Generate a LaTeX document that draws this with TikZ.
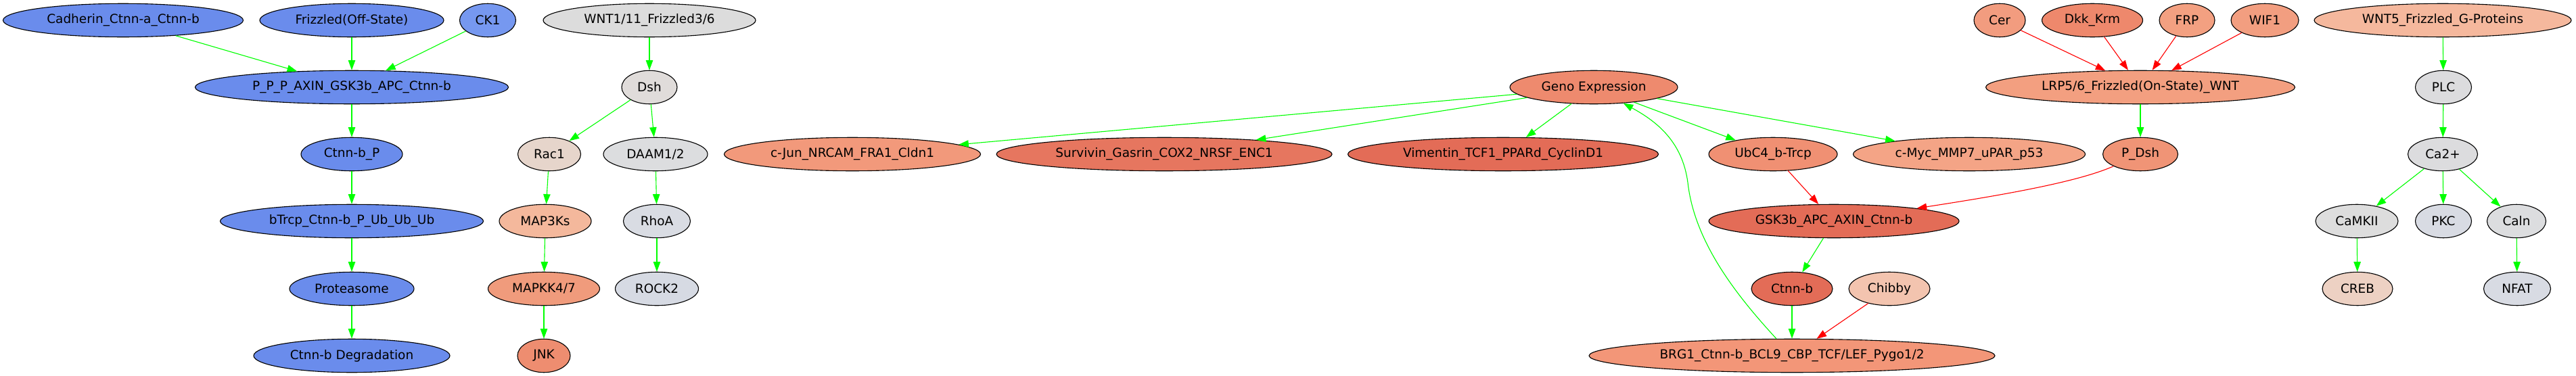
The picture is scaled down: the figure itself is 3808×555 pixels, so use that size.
\documentclass[tikz,border=0pt]{standalone}
\usepackage{fontspec}
\setmainfont{DejaVu Sans}
\usepackage{tikz}
\usetikzlibrary{arrows.meta,shapes.geometric}
\definecolor{cblue}{HTML}{6A8CEC}
\definecolor{cblueb}{HTML}{7698F0}
\definecolor{gwnt}{HTML}{DCDCDC}
\definecolor{gdsh}{HTML}{E0DCDA}
\definecolor{crac}{HTML}{E6D5CB}
\definecolor{gdaam}{HTML}{DCDDDF}
\definecolor{cmapk}{HTML}{F4B89C}
\definecolor{grho}{HTML}{D9DCE3}
\definecolor{cmapkk}{HTML}{F09B7C}
\definecolor{grock}{HTML}{D6DAE3}
\definecolor{cjnk}{HTML}{EE8D70}
\definecolor{ccjun}{HTML}{F2997B}
\definecolor{csurv}{HTML}{E6765F}
\definecolor{cvim}{HTML}{E36C57}
\definecolor{cgeno}{HTML}{EE8A6E}
\definecolor{cubc}{HTML}{F09073}
\definecolor{ccmyc}{HTML}{F4A486}
\definecolor{clrp}{HTML}{F39F80}
\definecolor{cpdsh}{HTML}{F09476}
\definecolor{cchib}{HTML}{F3C4AF}
\definecolor{cbrg}{HTML}{F39678}
\definecolor{ccer}{HTML}{F29C7F}
\definecolor{cdkk}{HTML}{EE886C}
\definecolor{cfrp}{HTML}{F3A081}
\definecolor{cwif}{HTML}{F29E80}
\definecolor{cwnt}{HTML}{F5B89D}
\definecolor{gplc}{HTML}{DCDCDE}
\definecolor{gcam}{HTML}{DDDDDD}
\definecolor{gpkc}{HTML}{D8DBE3}
\definecolor{ccreb}{HTML}{EDD1C3}
\begin{document}
\begin{tikzpicture}[x=0.72pt,y=-0.72pt,
  gene/.style={ellipse,draw=black,line width=0.8pt,inner sep=0pt,minimum height=35.6pt,font=\fontsize{13.3}{16}\selectfont},
  wd/.style={minimum width=#1*0.72pt},
  act/.style={draw=green,line width=0.8pt,-{Triangle[length=10.5pt,width=7.5pt]}},
  inh/.style={draw=red,line width=0.8pt,-{Triangle[length=10.5pt,width=7.5pt]}}]
\useasboundingbox (0,0) rectangle (3808,555);
\node[gene,wd=355,fill=cblue] (cadh) at (182,30) {Cadherin\_Ctnn-a\_Ctnn-b};
\node[gene,wd=272,fill=cblue] (frzoff) at (520,30) {Frizzled(Off-State)};
\node[gene,wd=83,fill=cblueb] (ck1) at (721,30) {CK1};
\node[gene,wd=314,fill=gwnt] (wnt1) at (960,30) {WNT1/11\_Frizzled3/6};
\node[gene,wd=76,fill=ccer] (cer) at (2956,30) {Cer};
\node[gene,wd=149,fill=cdkk] (dkk) at (3093,30) {Dkk\_Krm};
\node[gene,wd=82,fill=cfrp] (frp) at (3233,30) {FRP};
\node[gene,wd=100,fill=cwif] (wif) at (3348,30) {WIF1};
\node[gene,wd=380,fill=cwnt] (wnt5) at (3611,30) {WNT5\_Frizzled\_G-Proteins};
\node[gene,wd=463,fill=cblue] (ppp) at (520,129) {P\_P\_P\_AXIN\_GSK3b\_APC\_Ctnn-b};
\node[gene,wd=82,fill=gdsh] (dsh) at (960,129) {Dsh};
\node[gene,wd=248,fill=cgeno] (geno) at (2356,129) {Geno Expression};
\node[gene,wd=457,fill=clrp] (lrp) at (3164,129) {LRP5/6\_Frizzled(On-State)\_WNT};
\node[gene,wd=83,fill=gplc] (plc) at (3612,129) {PLC};
\node[gene,wd=150,fill=cblue] (ctnbp) at (520,228) {Ctnn-b\_P};
\node[gene,wd=93,fill=crac] (rac) at (812,228) {Rac1};
\node[gene,wd=154,fill=gdaam] (daam) at (969,228) {DAAM1/2};
\node[gene,wd=379,fill=ccjun] (cjun) at (1260,228) {c-Jun\_NRCAM\_FRA1\_Cldn1};
\node[gene,wd=496,fill=csurv] (surv) at (1721,228) {Survivin\_Gasrin\_COX2\_NRSF\_ENC1};
\node[gene,wd=459,fill=cvim] (vim) at (2222,228) {Vimentin\_TCF1\_PPARd\_CyclinD1};
\node[gene,wd=190,fill=cubc] (ubc) at (2621,228) {UbC4\_b-Trcp};
\node[gene,wd=343,fill=ccmyc] (cmyc) at (2911,228) {c-Myc\_MMP7\_uPAR\_p53};
\node[gene,wd=111,fill=cpdsh] (pdsh) at (3164,228) {P\_Dsh};
\node[gene,wd=103,fill=gplc] (ca) at (3611,228) {Ca2+};
\node[gene,wd=389,fill=cblue] (btrcp) at (520,327) {bTrcp\_Ctnn-b\_P\_Ub\_Ub\_Ub};
\node[gene,wd=136,fill=cmapk] (mapk) at (806,327) {MAP3Ks};
\node[gene,wd=99,fill=grho] (rhoa) at (971,327) {RhoA};
\node[gene,wd=370,fill=cvim] (gsk) at (2711,327) {GSK3b\_APC\_AXIN\_Ctnn-b};
\node[gene,wd=122,fill=gcam] (camk) at (3484,327) {CaMKII};
\node[gene,wd=83,fill=gpkc] (pkc) at (3612,327) {PKC};
\node[gene,wd=87,fill=gdaam] (caln) at (3720,327) {Caln};
\node[gene,wd=184,fill=cblue] (prot) at (520,427) {Proteasome};
\node[gene,wd=165,fill=cmapkk] (mapkk) at (804,427) {MAPKK4/7};
\node[gene,wd=123,fill=grock] (rock) at (971,427) {ROCK2};
\node[gene,wd=120,fill=cvim] (ctnb) at (2649,427) {Ctnn-b};
\node[gene,wd=120,fill=cchib] (chib) at (2793,427) {Chibby};
\node[gene,wd=104,fill=ccreb] (creb) at (3485,427) {CREB};
\node[gene,wd=99,fill=gpkc] (nfat) at (3721,427) {NFAT};
\node[gene,wd=290,fill=cblue] (deg) at (520,526) {Ctnn-b Degradation};
\node[gene,wd=78,fill=cjnk] (jnk) at (804,526) {JNK};
\node[gene,wd=600,fill=cbrg] (brg) at (2649,526) {BRG1\_Ctnn-b\_BCL9\_CBP\_TCF/LEF\_Pygo1/2};
\draw[act] (cadh) -- (ppp);
\draw[act] (frzoff) -- (ppp);
\draw[act] (ck1) -- (ppp);
\draw[act] (ppp) -- (ctnbp);
\draw[act] (ctnbp) -- (btrcp);
\draw[act] (btrcp) -- (prot);
\draw[act] (prot) -- (deg);
\draw[act] (wnt1) -- (dsh);
\draw[act] (dsh) -- (rac);
\draw[act] (dsh) -- (daam);
\draw[act] (rac) -- (mapk);
\draw[act] (mapk) -- (mapkk);
\draw[act] (mapkk) -- (jnk);
\draw[act] (daam) -- (rhoa);
\draw[act] (rhoa) -- (rock);
\draw[act] (geno) -- (cjun);
\draw[act] (geno) -- (surv);
\draw[act] (geno) -- (vim);
\draw[act] (geno) -- (ubc);
\draw[act] (geno) -- (cmyc);
\draw[inh] (ubc) -- (gsk);
\draw[inh] (pdsh) .. controls (3070,270) and (2950,290) .. (gsk);
\draw[act] (gsk) -- (ctnb);
\draw[act] (ctnb) -- (brg);
\draw[inh] (chib) -- (brg);
\draw[act] (brg) .. controls (2570,440) and (2505,360) .. (2495,270) .. controls (2487,210) and (2450,180) .. (geno);
\draw[inh] (cer) -- (lrp);
\draw[inh] (dkk) -- (lrp);
\draw[inh] (frp) -- (lrp);
\draw[inh] (wif) -- (lrp);
\draw[act] (lrp) -- (pdsh);
\draw[act] (wnt5) -- (plc);
\draw[act] (plc) -- (ca);
\draw[act] (ca) -- (camk);
\draw[act] (ca) -- (pkc);
\draw[act] (ca) -- (caln);
\draw[act] (camk) -- (creb);
\draw[act] (caln) -- (nfat);
\end{tikzpicture}
\end{document}
